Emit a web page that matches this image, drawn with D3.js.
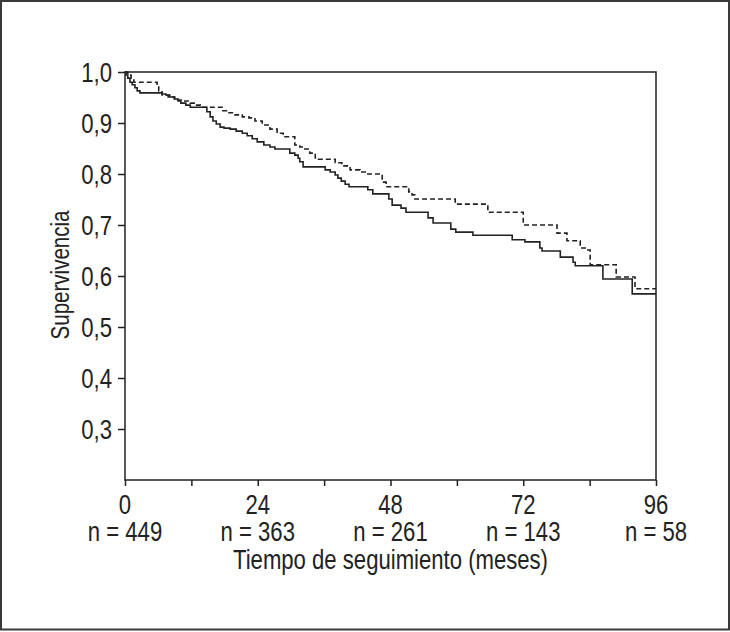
<!DOCTYPE html>
<html>
<head>
<meta charset="utf-8">
<script src="https://cdn.jsdelivr.net/npm/d3@7"></script>
<style>
html,body{margin:0;padding:0;background:#fff;}
svg{display:block;}
text{font-family:"Liberation Sans","Arial",sans-serif;fill:#222;}
</style>
</head>
<body>
<svg id="chart" width="730" height="632"></svg>
<script>
// Solid curve (time in months, survival)
const solidTime = [0, 0.2, 0.5, 0.9, 1.3, 1.8, 2.2, 2.7, 6.7, 7.4, 8.1, 8.9, 9.6, 10.1, 11.0, 11.8,
  14.8, 15.4, 15.9, 16.5, 17.2, 17.9, 19.0, 20.1, 21.2, 22.1, 23.0, 23.9, 25.1, 26.2, 27.1,
  29.8, 30.7, 31.3, 31.6, 32.2, 36.2, 37.1, 38.0, 38.5, 39.1, 39.8, 40.5, 43.9, 44.8,
  47.7, 48.3, 49.9, 50.8, 54.8, 55.7, 58.9, 59.8, 62.9, 70.0, 72.3, 75.0, 75.4, 78.7,
  81.0, 81.4, 86.4, 91.7];
const solidSurv = [1.0, 0.994, 0.988, 0.980, 0.975, 0.969, 0.963, 0.959, 0.957, 0.955, 0.951, 0.947, 0.943, 0.939, 0.935, 0.931,
  0.922, 0.912, 0.904, 0.898, 0.892, 0.890, 0.888, 0.884, 0.880, 0.875, 0.869, 0.863, 0.857, 0.853, 0.849,
  0.841, 0.837, 0.831, 0.824, 0.814, 0.808, 0.804, 0.798, 0.792, 0.786, 0.780, 0.775, 0.769, 0.761,
  0.751, 0.739, 0.733, 0.725, 0.714, 0.704, 0.692, 0.686, 0.680, 0.671, 0.667, 0.655, 0.649, 0.637,
  0.627, 0.620, 0.594, 0.565];
// Dashed curve
const dashedTime = [0, 0.5, 1.1, 1.6, 5.8, 6.1, 6.7, 7.8, 9.0, 10.3, 11.8, 12.8, 13.6,
  17.7, 18.6, 19.9, 21.2, 22.4, 23.5, 24.8, 26.2, 27.5, 28.6, 30.7, 31.6, 32.5, 33.4, 34.4,
  38.0, 39.2, 40.7, 42.5, 43.9, 46.5, 47.2, 51.3, 51.9, 52.4, 59.7, 65.6, 72.0, 78.1, 79.9,
  82.3, 83.5, 84.1, 88.8, 92.2];
const dashedSurv = [1.0, 0.994, 0.986, 0.980, 0.973, 0.963, 0.955, 0.951, 0.945, 0.943, 0.939, 0.935, 0.931,
  0.924, 0.920, 0.916, 0.912, 0.910, 0.904, 0.896, 0.888, 0.880, 0.873, 0.857, 0.853, 0.849, 0.841, 0.829,
  0.822, 0.816, 0.808, 0.804, 0.800, 0.784, 0.775, 0.765, 0.759, 0.751, 0.741, 0.725, 0.700, 0.684, 0.669,
  0.655, 0.651, 0.622, 0.598, 0.575];
const xTicks = [0, 12, 24, 36, 48, 60, 72, 84, 96];
const xLabelTicks = [0, 24, 48, 72, 96];
const atRisk = ["n = 449", "n = 363", "n = 261", "n = 143", "n = 58"];
const yTicks = [0.3, 0.4, 0.5, 0.6, 0.7, 0.8, 0.9, 1.0];
const xMax = 96;

const SX = 0.79; // condensed look
const FS = 28;

const svg = d3.select("#chart");
// outer frame
svg.append("rect").attr("x", 1).attr("y", 1).attr("width", 728).attr("height", 628.5)
  .attr("fill", "none").attr("stroke", "#3a3a3a").attr("stroke-width", 2);

const L = 125, R = 656, T = 72, B = 480;
const x = d3.scaleLinear().domain([0, 96]).range([L, R]);
const y = d3.scaleLinear().domain([0.2, 1.0]).range([B, T]);

const fmt = d => d3.format(".1f")(d).replace(".", ",");

// y axis ticks
const yAxis = svg.append("g").attr("transform", `translate(${L},0)`)
  .call(d3.axisLeft(y).tickValues(yTicks).tickSize(7).tickFormat(() => ""));
yAxis.select(".domain").remove();
yAxis.selectAll("line").attr("stroke", "#222").attr("stroke-width", 1.5);
// y tick labels (condensed)
svg.append("g").selectAll("text").data(yTicks).join("text")
  .attr("transform", d => `translate(112,${y(d) + 10}) scale(${SX},1)`)
  .attr("text-anchor", "end").attr("font-size", FS).text(fmt);

// x axis ticks
const xAxis = svg.append("g").attr("transform", `translate(0,${B})`)
  .call(d3.axisBottom(x).tickValues(xTicks).tickSize(6).tickFormat(() => ""));
xAxis.select(".domain").remove();
xAxis.selectAll("line").attr("stroke", "#222").attr("stroke-width", 1.5);

// frame of plot area
svg.append("rect").attr("x", L).attr("y", T).attr("width", R - L).attr("height", B - T)
  .attr("fill", "none").attr("stroke", "#222").attr("stroke-width", 1.5);

// x labels
svg.append("g").selectAll("text").data(xLabelTicks).join("text")
  .attr("transform", d => `translate(${x(d)},514) scale(${SX},1)`)
  .attr("text-anchor", "middle").attr("font-size", FS).text(d => d);
svg.append("g").selectAll("text").data(atRisk).join("text")
  .attr("transform", (d, i) => `translate(${x(xLabelTicks[i])},541) scale(${SX},1)`)
  .attr("text-anchor", "middle").attr("font-size", FS).text(d => d);
svg.append("text").attr("transform", `translate(${(L + R) / 2},569) scale(${SX},1)`)
  .attr("text-anchor", "middle").attr("font-size", FS).text("Tiempo de seguimiento (meses)");
svg.append("text").attr("transform", `translate(69,${(T + B) / 2 - 1}) rotate(-90) scale(${SX},1)`)
  .attr("text-anchor", "middle").attr("font-size", 26).text("Supervivencia");

// curves
const line = d3.line().x(d => x(d[0])).y(d => y(d[1])).curve(d3.curveStepAfter);
function pts(t, s) {
  const p = t.map((v, i) => [v, s[i]]);
  p.push([xMax, s[s.length - 1]]);
  return p;
}
svg.append("path").datum(pts(dashedTime, dashedSurv)).attr("d", line)
  .attr("fill", "none").attr("stroke", "#222").attr("stroke-width", 1.6).attr("stroke-dasharray", "5,3");
svg.append("path").datum(pts(solidTime, solidSurv)).attr("d", line)
  .attr("fill", "none").attr("stroke", "#222").attr("stroke-width", 1.6);
</script>
</body>
</html>
